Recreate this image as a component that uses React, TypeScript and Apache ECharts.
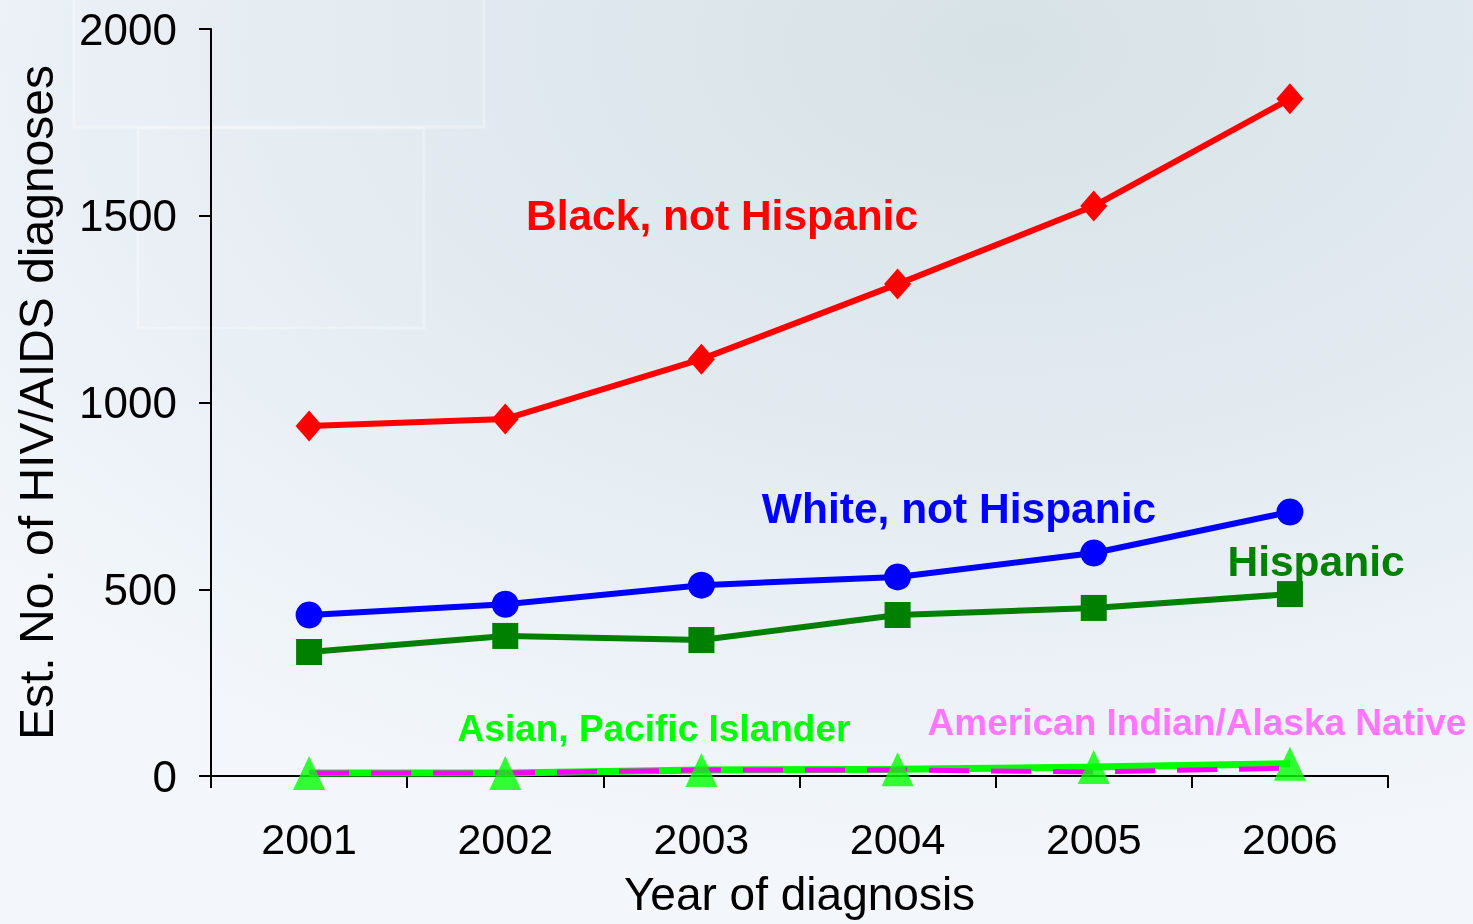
import React, { useEffect, useRef } from "react";
import * as echarts from "echarts";

const years = ["2001", "2002", "2003", "2004", "2005", "2006"];
const black = [937, 956, 1116, 1317, 1526, 1813];
const white = [431, 460, 511, 533, 597, 707];
const hispanic = [332, 375, 364, 431, 450, 487];
const asian = [8, 8, 16, 18, 24, 33];
const aian = [8, 8, 16, 16, 11, 21];
const yTicks = { min: 0, max: 2000, interval: 500 };

export default function App() {
  const ref = useRef<HTMLDivElement>(null);
  useEffect(() => {
    document.body.style.margin = "0";
    const chart = echarts.init(ref.current!, null, { renderer: "svg" });
    const font = "'Liberation Sans', Arial, sans-serif";
    const labelText = (text: string, x: number, y: number, color: string, size: number) => ({
      type: "text",
      x,
      y,
      z: 10,
      style: {
        text,
        fill: color,
        font: `bold ${size}px ${font}`,
        textAlign: "center",
        textVerticalAlign: "middle",
      },
    });
    const faint = (x: number, y: number, w: number, h: number) => ({
      type: "rect",
      shape: { x, y, width: w, height: h },
      z: -10,
      silent: true,
      style: { fill: "rgba(255,255,255,0.05)", stroke: "rgba(255,255,255,0.3)", lineWidth: 3 },
    });
    chart.setOption({
      animation: false,
      backgroundColor: {
        type: "radial",
        x: 0.68,
        y: 0.05,
        r: 0.9,
        colorStops: [
          { offset: 0, color: "#d7e2e6" },
          { offset: 0.5, color: "#e3ebf1" },
          { offset: 1, color: "#f3f7fc" },
        ],
      },
      textStyle: { fontFamily: font },
      grid: { left: 211, right: 85, top: 29, bottom: 148, containLabel: false, outerBoundsMode: "none" },
      xAxis: {
        type: "category",
        data: years,
        boundaryGap: true,
        name: "Year of diagnosis",
        nameLocation: "middle",
        nameGap: 95,
        nameTextStyle: { fontSize: 46, color: "#000", fontFamily: font },
        axisLine: { lineStyle: { color: "#000", width: 2 } },
        axisTick: { show: true, length: 12, inside: false, lineStyle: { color: "#000", width: 2 } },
        axisLabel: { fontSize: 43, color: "#000", margin: 41, fontFamily: font },
        splitLine: { show: false },
      },
      yAxis: {
        type: "value",
        min: yTicks.min,
        max: yTicks.max,
        interval: yTicks.interval,
        name: "Est. No. of HIV/AIDS diagnoses",
        nameLocation: "middle",
        nameGap: 151,
        nameRotate: 90,
        nameTextStyle: { fontSize: 48, color: "#000", fontFamily: font },
        axisLine: { show: true, lineStyle: { color: "#000", width: 2 } },
        axisTick: { show: true, length: 12, inside: false, lineStyle: { color: "#000", width: 2 } },
        axisLabel: { fontSize: 44, color: "#000", margin: 34, fontFamily: font, formatter: (v: number) => String(v) },
        splitLine: { show: false },
      },
      series: [
        {
          name: "Black, not Hispanic",
          type: "line",
          data: black,
          z: 5,
          symbol: "diamond",
          symbolSize: [27, 31],
          lineStyle: { color: "#ff0000", width: 6 },
          itemStyle: { color: "#ff0000" },
        },
        {
          name: "White, not Hispanic",
          type: "line",
          data: white,
          z: 5,
          symbol: "circle",
          symbolSize: 27,
          lineStyle: { color: "#0000ff", width: 6 },
          itemStyle: { color: "#0000ff" },
        },
        {
          name: "Hispanic",
          type: "line",
          data: hispanic,
          z: 5,
          symbol: "rect",
          symbolSize: 26,
          lineStyle: { color: "#008000", width: 6 },
          itemStyle: { color: "#008000" },
        },
        {
          name: "Asian, Pacific Islander",
          type: "line",
          data: asian,
          z: 3,
          showSymbol: false,
          symbol: "none",
          lineStyle: { color: "#00ff00", width: 7 },
        },
        {
          name: "American Indian/Alaska Native",
          type: "line",
          data: aian,
          z: 4,
          symbol: "none",
          lineStyle: { color: "#ff00ff", width: 5, type: [40, 22] },
        },
        {
          name: "Asian markers",
          type: "scatter",
          data: asian,
          z: 6,
          symbol: "triangle",
          symbolSize: [32, 34],
          itemStyle: { color: "#00ff00" },
        },
      ],
      graphic: [
        faint(74, -4, 410, 131),
        faint(138, 128, 286, 200),
        labelText("Black, not Hispanic", 722, 215, "#ff0000", 42.5),
        labelText("White, not Hispanic", 959, 508, "#0000ff", 42.5),
        labelText("Hispanic", 1316, 561, "#008000", 42.5),
        labelText("Asian, Pacific Islander", 654, 728, "#00ff00", 37),
        labelText("American Indian/Alaska Native", 1197, 722, "#ff77ff", 37),
      ],
    });
    return () => chart.dispose();
  }, []);
  return <div ref={ref} style={{ position: "fixed", left: 0, top: 0, width: 1473, height: 924 }} />;
}
